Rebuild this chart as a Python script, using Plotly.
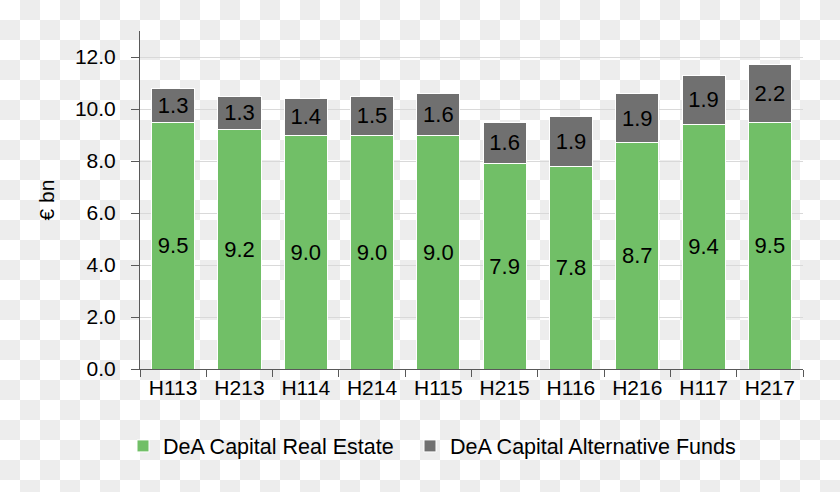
import plotly.graph_objects as go

categories = ["H113", "H213", "H114", "H214", "H115", "H215", "H116", "H216", "H117", "H217"]
real_estate = [9.5, 9.2, 9.0, 9.0, 9.0, 7.9, 7.8, 8.7, 9.4, 9.5]
alt_funds = [1.3, 1.3, 1.4, 1.5, 1.6, 1.6, 1.9, 1.9, 1.9, 2.2]
y_ticks = [0, 2, 4, 6, 8, 10, 12]

FONT = "Liberation Sans, Arial, sans-serif"
GREEN = "#71BF67"
GREY = "#707070"
AXIS = "#595959"

W, H = 840, 492
L, R, T, B = 140, 37, 31, 123
PW, PH = W - L - R, H - T - B

# transparency-style checkerboard background (20 px squares), in paper units
checker = []
for j in range(0, H // 20 + 1):
    for i in range(0, W // 20 + 1):
        if (i + j) % 2 == 1:
            checker.append(dict(
                type="rect", xref="paper", yref="paper",
                x0=(i * 20 - L) / PW, x1=((i + 1) * 20 - L) / PW,
                y0=1 - (j * 20 - T) / PH, y1=1 - ((j + 1) * 20 - T) / PH,
                fillcolor="#ededed", line=dict(width=0), layer="below",
            ))

fig = go.Figure()
fig.add_trace(go.Bar(
    x=categories, y=real_estate, name="DeA Capital Real Estate",
    marker=dict(color=GREEN, line=dict(color="white", width=1)),
    texttemplate="%{y:.1f}", textposition="inside", insidetextanchor="middle",
    textangle=0, textfont=dict(family=FONT, size=22, color="black"),
    legend="legend",
))
fig.add_trace(go.Bar(
    x=categories, y=alt_funds, name="DeA Capital Alternative Funds",
    marker=dict(color=GREY, line=dict(color="white", width=1)),
    texttemplate="%{y:.1f}", textposition="inside", insidetextanchor="middle",
    textangle=0, textfont=dict(family=FONT, size=22, color="black"),
    legend="legend2",
))

leg_common = dict(orientation="h", xanchor="left", y=-0.167, yanchor="top",
                  font=dict(family=FONT, size=21.5, color="black"),
                  bgcolor="rgba(0,0,0,0)")
fig.update_layout(
    width=W, height=H,
    margin=dict(l=L, r=R, t=T, b=B, autoexpand=False),
    barmode="stack", bargap=0.35,
    paper_bgcolor="rgba(0,0,0,0)", plot_bgcolor="rgba(0,0,0,0)",
    font=dict(family=FONT, size=21, color="black"),
    showlegend=True,
    legend=dict(x=(123 - L) / PW, **leg_common),
    legend2=dict(x=(410 - L) / PW, **leg_common),
    shapes=checker,
)
fig.update_xaxes(
    showline=True, linecolor=AXIS, linewidth=1,
    ticks="outside", tickson="boundaries", ticklen=7, tickcolor=AXIS,
    tickangle=0, tickfont=dict(family=FONT, size=21, color="black"),
    showgrid=False,
)
fig.update_yaxes(
    range=[0, 13], tickvals=y_ticks, tickformat=".1f",
    showline=True, linecolor=AXIS, linewidth=1,
    ticks="outside", ticklen=8, tickcolor=AXIS, ticklabelstandoff=11,
    tickfont=dict(family=FONT, size=21, color="black"),
    showgrid=True, gridcolor="#d9d9d9", gridwidth=1, zeroline=False,
    title=dict(text="€ bn", font=dict(family=FONT, size=21, color="black"), standoff=14),
)

post = (
    "document.body.style.margin='0';"
    "document.body.style.background="
    "'repeating-conic-gradient(#ededed 0 25%, #ffffff 0 50%) 0 0 / 40px 40px';"
)
fig.write_html("out.html", post_script=post, config={"displayModeBar": False})
